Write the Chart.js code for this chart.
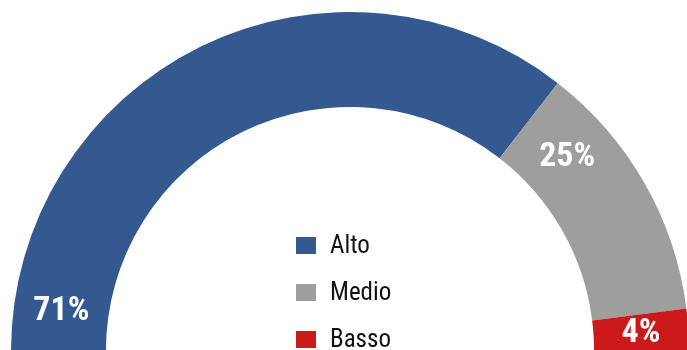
<!DOCTYPE html>
<html>
<head>
<meta charset="utf-8">
<script src="https://cdn.jsdelivr.net/npm/chart.js@4"></script>
<style>
  html, body { margin: 0; padding: 0; background: #ffffff; width: 687px; height: 350px; overflow: hidden; }
  #wrap { position: absolute; left: 11px; top: 12px; width: 678px; height: 339px; }
</style>
</head>
<body>
<div id="wrap"><canvas id="c"></canvas></div>
<script>
// ---- data ----
const categories = ["Alto", "Medio", "Basso"];
const values = [71, 25, 4];
const valueLabels = ["71%", "25%", "4%"];

// ---- styles ----
const colors = ["#345890", "#9e9e9c", "#cc191b"];
const labelFractions = [0.063, 0.23, 0.5]; // where along each arc the value label sits
const narrow = "'Liberation Sans Narrow', 'Arial Narrow', 'Roboto Condensed', sans-serif";

const overlay = {
  id: 'overlay',
  afterDatasetsDraw(chart) {
    const ctx = chart.ctx;
    const meta = chart.getDatasetMeta(0);
    const first = meta.data[0];
    const cx = first.x, cy = first.y;
    // value labels
    ctx.save();
    ctx.fillStyle = '#ffffff';
    ctx.font = 'bold 34px ' + narrow;
    ctx.textAlign = 'center';
    ctx.textBaseline = 'middle';
    meta.data.forEach((arc, i) => {
      const p = arc.getProps(['startAngle', 'endAngle', 'innerRadius', 'outerRadius'], true);
      const a = p.startAngle + labelFractions[i] * (p.endAngle - p.startAngle);
      const r = (p.innerRadius + p.outerRadius) / 2;
      ctx.fillText(valueLabels[i], cx + r * Math.cos(a), cy + r * Math.sin(a) + 1);
    });
    // legend
    ctx.font = '25px ' + narrow;
    ctx.textAlign = 'left';
    ctx.textBaseline = 'middle';
    categories.forEach((name, i) => {
      const yMid = cy - 105.5 + i * 47;
      ctx.fillStyle = colors[i];
      ctx.fillRect(cx - 54, yMid - 8.5, 20, 17);
      ctx.fillStyle = '#111111';
      ctx.fillText(name, cx - 20, yMid + 1);
    });
    ctx.restore();
  }
};

new Chart(document.getElementById('c'), {
  type: 'doughnut',
  data: {
    labels: categories,
    datasets: [{
      data: values,
      backgroundColor: colors,
      borderWidth: 0,
      hoverOffset: 0
    }]
  },
  options: {
    responsive: true,
    maintainAspectRatio: false,
    animation: false,
    rotation: -90,
    circumference: 180,
    cutout: '72%',
    layout: { padding: 0 },
    plugins: {
      legend: { display: false },
      tooltip: { enabled: false }
    }
  },
  plugins: [overlay]
});
</script>
</body>
</html>
